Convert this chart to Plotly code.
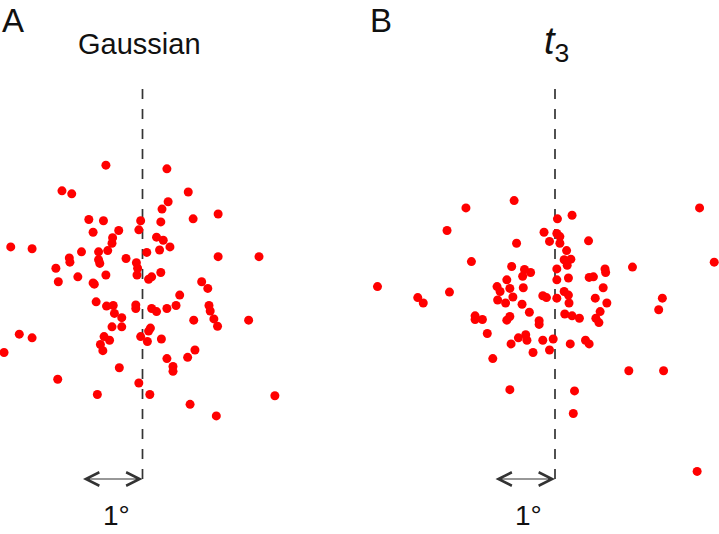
import plotly.graph_objects as go

# Panel A (Gaussian) dot positions in degrees (x relative to the dashed line)
gauss_x = [-0.60, 0.40, -1.32, -1.16, 0.75, 0.42, 0.32, 1.24, -0.88, -0.64, -0.03, 0.30, 0.83,
           -0.81, -0.39, -0.06, -0.49, -0.50, 0.23, 0.34, -2.16, -1.81, 0.45, 0.28, 0.07, -1.00,
           -0.72, -0.57, -0.72, -1.20, -1.19, -0.27, -0.10, 1.24, 1.91, -1.42, -0.08, -0.70,
           -1.06, -0.60, -0.09, 0.10, 0.15, 0.30, -1.38, -0.81, -0.79, 0.97, 1.07, 0.61, -0.76,
           -0.59, -0.48, -0.11, -0.11, 0.15, 0.23, 0.40, 0.55, 1.09, 1.11, -0.46, -0.34, 0.84,
           1.17, 1.23, 1.74, -0.50, -0.34, 0.13, 0.10, -0.03, 0.08, -2.02, -1.81, -0.63, -0.54,
           0.31, -0.69, -0.65, -2.27, 0.86, 0.74, 0.40, 0.50, 0.50, -0.38, -1.39, -0.06, -0.74,
           0.12, 2.17, 0.78, 1.21]
gauss_y = [2.21, 2.15, 1.79, 1.74, 1.77, 1.61, 1.49, 1.41, 1.32, 1.30, 1.30, 1.28, 1.33,
           1.11, 1.14, 1.15, 1.02, 0.93, 1.03, 0.98, 0.87, 0.84, 0.87, 0.82, 0.78, 0.79,
           0.79, 0.81, 0.66, 0.69, 0.62, 0.68, 0.61, 0.71, 0.71, 0.52, 0.52, 0.60,
           0.38, 0.41, 0.41, 0.34, 0.38, 0.45, 0.30, 0.28, 0.26, 0.30, 0.19, 0.08, -0.03,
           -0.10, -0.09, -0.08, -0.14, -0.14, -0.19, -0.14, -0.09, -0.09, -0.18, -0.22, -0.29, -0.33,
           -0.31, -0.43, -0.33, -0.44, -0.44, -0.46, -0.51, -0.60, -0.68, -0.56, -0.62, -0.60, -0.66,
           -0.64, -0.73, -0.83, -0.86, -0.82, -0.94, -0.96, -1.09, -1.17, -1.11, -1.30, -1.36, -1.55,
           -1.55, -1.57, -1.71, -1.90]

# Panel B (t3) dot positions in degrees
t3_x = [-0.67, -1.46, 2.37, 0.04, 0.28, -1.77, -0.18, 0.03, 0.08, -0.09, 0.08, -0.63, 0.55,
        0.19, 0.15, 0.26, 0.20, -1.37, 2.61, -0.71, 0.03, -0.50, -0.40, -0.53, 0.82, 0.83,
        1.27, 0.56, 0.63, 0.22, 0.03, -0.79, -2.91, -0.95, -0.74, -0.52, 0.79, -1.73, -2.25,
        -0.90, -0.20, 0.15, 0.22, 0.66, 1.76, -2.16, -0.94, -0.81, -0.69, -0.54, -0.14, 0.03,
        0.23, 0.85, 1.70, -0.42, -1.31, -1.31, -1.19, -0.79, -0.74, -0.26, -0.26, 0.16, 0.28,
        0.40, 0.74, 0.67, 0.72, -1.11, -0.60, -0.48, -0.46, -0.20, -0.03, -0.72, 0.25, 0.50,
        0.56, -0.36, -0.09, -1.02, 1.21, 1.78, -0.74, 0.32, 0.30, 2.33]
t3_y = [1.63, 1.51, 1.51, 1.33, 1.39, 1.14, 1.11, 1.09, 1.04, 0.96, 0.93, 0.93, 0.97,
        0.81, 0.66, 0.67, 0.57, 0.63, 0.62, 0.55, 0.51, 0.50, 0.45, 0.39, 0.51, 0.45,
        0.54, 0.37, 0.38, 0.36, 0.33, 0.33, 0.22, 0.22, 0.19, 0.20, 0.20, 0.13, 0.04,
        0.14, 0.07, 0.14, 0.08, 0.03, 0.03, -0.05, 0.00, -0.05, 0.05, -0.07, 0.04, 0.03,
        -0.05, -0.05, -0.16, -0.20, -0.26, -0.32, -0.32, -0.33, -0.27, -0.34, -0.40, -0.23, -0.26,
        -0.30, -0.19, -0.30, -0.37, -0.55, -0.62, -0.57, -0.66, -0.66, -0.64, -0.72, -0.72, -0.66,
        -0.72, -0.86, -0.82, -0.96, -1.16, -1.16, -1.47, -1.49, -1.86, -2.81]

panel_letters = ["A", "B"]
panel_titles = ["Gaussian", "<i>t</i><sub>3</sub>"]
scale_label = "1°"
scale_len = 1.0  # degrees

# Layout geometry (pixels)
W, H = 719, 534
PX_PER_DEG = 61.0
Y_CENTER_PX = 300.0
CENTER_A_PX = 142.5
CENTER_B_PX = 555.0
HALF = W / 2.0

def ydeg(py):
    return (Y_CENTER_PX - py) / PX_PER_DEG

line_top, line_bot = ydeg(89), ydeg(487)
arrow_y = ydeg(479)
label_y = ydeg(515)

fig = go.Figure()
red = "#ff0000"
for xs, ys, xa in [(gauss_x, gauss_y, "x"), (t3_x, t3_y, "x2")]:
    fig.add_trace(go.Scatter(x=[0, 0], y=[line_top, line_bot], mode="lines",
                             line=dict(color="#333333", width=1.7, dash="10px,10px"),
                             xaxis=xa, yaxis="y", hoverinfo="skip", showlegend=False))
    fig.add_trace(go.Scatter(x=xs, y=ys, mode="markers",
                             marker=dict(color=red, size=9, line=dict(width=0)),
                             xaxis=xa, yaxis="y", showlegend=False))

annotations = []
for xa, ya in [("x", "y"), ("x2", "y")]:
    annotations.append(dict(x=0, y=arrow_y, ax=-scale_len, ay=arrow_y, xref=xa, yref=ya,
                            axref=xa, ayref=ya, text="", showarrow=True,
                            arrowside="end+start", arrowhead=5, arrowsize=2.2,
                            arrowwidth=1.2, arrowcolor="#333333", standoff=0, startstandoff=0))
    annotations.append(dict(x=-scale_len / 2 + 0.07, y=label_y, xref=xa, yref=ya, text=scale_label,
                            showarrow=False, font=dict(size=28, color="#111111",
                                                       family="Liberation Sans, Arial")))

font = "Liberation Sans, Arial, sans-serif"
annotations += [
    dict(x=0 / W, y=1.0, xref="paper", yref="paper", xanchor="left", yanchor="top",
         text=panel_letters[0], showarrow=False, font=dict(size=33, color="#111111", family=font)),
    dict(x=368 / W, y=1.0, xref="paper", yref="paper", xanchor="left", yanchor="top",
         text=panel_letters[1], showarrow=False, font=dict(size=33, color="#111111", family=font)),
    dict(x=139 / W, y=1 - 44 / H, xref="paper", yref="paper", xanchor="center", yanchor="middle",
         text=panel_titles[0], showarrow=False, font=dict(size=29, color="#111111", family=font)),
    dict(x=556 / W, y=1 - 44 / H, xref="paper", yref="paper", xanchor="center", yanchor="middle",
         text=panel_titles[1], showarrow=False, font=dict(size=38, color="#111111", family=font)),
]

ax_common = dict(visible=False, showgrid=False, zeroline=False, fixedrange=True)
fig.update_layout(
    width=W, height=H, margin=dict(l=0, r=0, t=0, b=0),
    paper_bgcolor="white", plot_bgcolor="white",
    xaxis=dict(domain=[0, 0.5], range=[-CENTER_A_PX / PX_PER_DEG, (HALF - CENTER_A_PX) / PX_PER_DEG],
               anchor="y", **ax_common),
    xaxis2=dict(domain=[0.5, 1], range=[-(CENTER_B_PX - HALF) / PX_PER_DEG, (W - CENTER_B_PX) / PX_PER_DEG],
                anchor="y", **ax_common),
    yaxis=dict(domain=[0, 1], range=[(Y_CENTER_PX - H) / PX_PER_DEG, Y_CENTER_PX / PX_PER_DEG], **ax_common),
    annotations=annotations,
)

fig.write_html("out.html", config={"displayModeBar": False},
               post_script="document.body.style.margin='0';document.body.style.overflow='hidden';")
